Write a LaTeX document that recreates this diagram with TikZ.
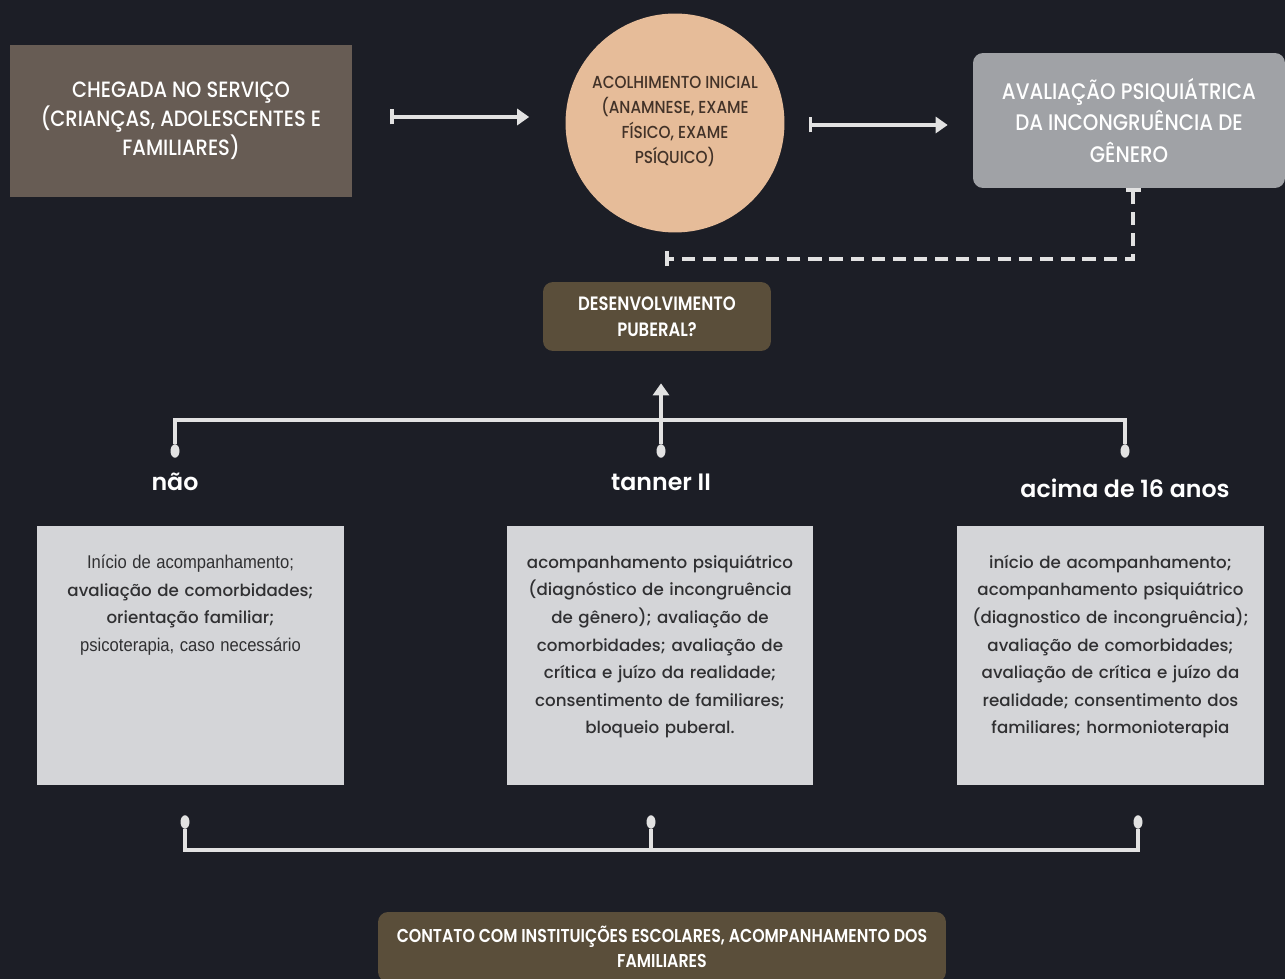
\documentclass[tikz,border=0pt]{standalone}
\usepackage{fontspec}
\setmainfont{Poppins}
\newfontfamily\capsfont[FakeStretch=0.88]{Poppins Medium}
\newfontfamily\condbold[FakeStretch=0.85]{Poppins SemiBold}
\newfontfamily\medfont{Poppins Medium}
\newfontfamily\semifont{Poppins SemiBold}
\newfontfamily\narrowfont[FakeStretch=0.9]{Liberation Sans}
\usetikzlibrary{arrows.meta,shapes.geometric,positioning}

\definecolor{bg}{RGB}{28,30,38}
\definecolor{taupe}{RGB}{103,92,84}
\definecolor{peach}{RGB}{230,188,153}
\definecolor{slate}{RGB}{160,162,166}
\definecolor{olive}{RGB}{90,78,58}
\definecolor{panelgray}{RGB}{212,213,216}
\definecolor{wire}{RGB}{226,226,226}
\definecolor{ink}{RGB}{48,48,50}
\definecolor{circink}{RGB}{66,50,40}

\tikzset{
  topbox/.style={rectangle, text=white, align=center, inner sep=0pt},
  circtext/.style={yshift=0.03cm, inner sep=0pt, text=circink, align=center,
    font=\capsfont\fontsize{9.9}{14.2}\selectfont},
  decision/.style={rectangle, rounded corners=0.2cm, fill=olive, text=white, align=center},
  panel/.style={rectangle, fill=panelgray, minimum width=6.14cm, minimum height=5.18cm},
  paneltext/.style={anchor=north, yshift=-0.58cm, inner sep=0pt, text width=6cm, align=center,
    text=ink, font=\medfont\fontsize{9.5}{15.7}\selectfont},
  branch/.style={text=white, font=\semifont\fontsize{13.5}{16}\selectfont},
  pin/.style={ellipse, fill=wire, minimum width=1.8mm, minimum height=2.7mm, inner sep=0pt},
  wireline/.style={draw=wire, line width=2pt},
  flow/.style={wireline, {Bar[width=3mm]}-{Triangle[length=2.4mm,width=3.2mm]}}
}

\begin{document}
\begin{tikzpicture}[x=0.02cm, y=-0.02cm]
  \fill[bg] (0,0) rectangle (1285,979);
  \useasboundingbox (0,0) rectangle (1285,979);

  \node[topbox, fill=taupe, minimum width=6.84cm, minimum height=3.04cm,
    font=\capsfont\fontsize{12.6}{16.5}\selectfont] (arrival) at (181,121)
    {CHEGADA NO SERVIÇO\\(CRIANÇAS, ADOLESCENTES E\\FAMILIARES)};
  \node[circle, fill=peach, minimum size=4.38cm, inner sep=0pt,
    label={[circtext]center:{ACOLHIMENTO INICIAL\\(ANAMNESE, EXAME\\FÍSICO, EXAME\\PSÍQUICO)}}] (intake) at (675,123) {};
  \node[topbox, fill=slate, rounded corners=0.2cm, minimum width=6.24cm, minimum height=2.7cm,
    font=\capsfont\fontsize{12.8}{17.9}\selectfont] (psych) at (1129,120.5)
    {AVALIAÇÃO PSIQUIÁTRICA\\DA INCONGRUÊNCIA DE\\GÊNERO};

  \draw[flow, shorten <=0.76cm, shorten >=0.72cm] ([yshift=0.08cm]arrival.east) -- ([yshift=0.08cm]arrival.east -| intake.west);
  \draw[flow, shorten <=0.48cm, shorten >=0.5cm] ([yshift=-0.04cm]intake.east) -- ([yshift=-0.04cm]intake.east -| psych.west);

  \coordinate (loop) at (665,259);
  \draw[wireline, dash pattern=on 7.5pt off 4.5pt, {Bar[width=3mm]}-{Bar[width=3mm]}] ([xshift=0.08cm]psych.south) |- (loop);

  \node[decision, minimum width=4.56cm, minimum height=1.38cm,
    font=\condbold\fontsize{11}{14.5}\selectfont] (puberty) at (657,316.5)
    {DESENVOLVIMENTO\\PUBERAL?};

  \node[pin] (no) at (175,451) {};
  \node[pin] (tanner) at (661,451) {};
  \node[pin] (older) at (1125,451) {};
  \draw[wireline] (no) -- ++(0,-31) -| (older);
  \draw[wireline, -{Triangle[length=2.4mm,width=3.2mm]}, shorten >=0.64cm] (tanner) -- (tanner |- puberty.south);

  \node[branch] (lno) at (175,482) {não};
  \node[branch] (ltanner) at (661,482) {tanner II};
  \node[branch] (lolder) at (1125,488) {acima de 16 anos};

  \node[panel, label={[paneltext]north:{{\narrowfont\fontsize{10.5}{15.7}\selectfont Início de acompanhamento;}\\avaliação de comorbidades;\\orientação familiar;\\{\narrowfont\fontsize{10.5}{15.7}\selectfont psicoterapia, caso necessário}}}] (pno) at (190.5,655.5) {};
  \node[panel, label={[paneltext]north:{acompanhamento psiquiátrico\\(diagnóstico de incongruência\\de gênero); avaliação de\\comorbidades; avaliação de\\crítica e juízo da realidade;\\consentimento de familiares;\\bloqueio puberal.}}] (ptanner) at (660,655.5) {};
  \node[panel, label={[paneltext]north:{início de acompanhamento;\\acompanhamento psiquiátrico\\(diagnostico de incongruência);\\avaliação de comorbidades;\\avaliação de crítica e juízo da\\realidade; consentimento dos\\familiares; hormonioterapia}}] (polder) at (1110.5,655.5) {};

  \node[pin] (bno) at (185,822) {};
  \node[pin] (btanner) at (651,822) {};
  \node[pin] (bolder) at (1138,822) {};
  \draw[wireline] (bno) -- ++(0,28) -| (bolder);
  \draw[wireline] (btanner) -- ++(0,28);

  \node[decision, minimum width=11.36cm, minimum height=1.4cm,
    font=\condbold\fontsize{10.6}{14.5}\selectfont] (schools) at (662,947)
    {CONTATO COM INSTITUIÇÕES ESCOLARES, ACOMPANHAMENTO DOS\\FAMILIARES};
\end{tikzpicture}
\end{document}
